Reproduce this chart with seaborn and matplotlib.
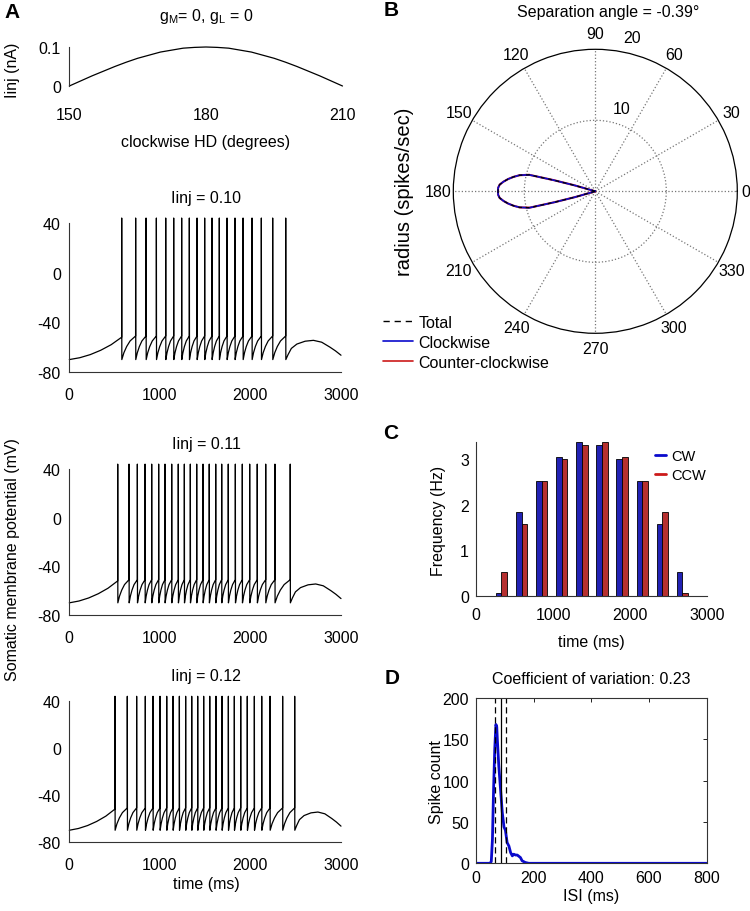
import numpy as np
import pandas as pd
import matplotlib
matplotlib.use('Agg')
import matplotlib.pyplot as plt
import seaborn as sns
from matplotlib.lines import Line2D

# ---------------- data ----------------
# Panel A (top): injected current vs clockwise head direction
hd_deg = [150, 152.5, 155, 157.5, 160, 162.5, 165, 167.5, 170, 172.5, 175, 177.5, 180,
          182.5, 185, 187.5, 190, 192.5, 195, 197.5, 200, 202.5, 205, 207.5, 210]
iinj_na = [0.000, 0.013, 0.026, 0.038, 0.050, 0.061, 0.071, 0.079, 0.087, 0.092, 0.097, 0.099, 0.100,
           0.099, 0.097, 0.092, 0.087, 0.079, 0.071, 0.061, 0.050, 0.038, 0.026, 0.013, 0.000]

# Panel A traces: spike times (ms)
spikes_010 = [578, 732, 847, 961, 1064, 1152, 1240, 1325, 1410, 1494, 1575, 1656, 1741,
              1829, 1918, 2017, 2120, 2245, 2389]
spikes_011 = [534, 659, 751, 836, 909, 986, 1056, 1130, 1203, 1270, 1336, 1406, 1476, 1545,
              1616, 1682, 1755, 1833, 1910, 1991, 2075, 2168, 2270, 2439]
spikes_012 = [504, 640, 743, 839, 924, 1001, 1075, 1145, 1215, 1284, 1351, 1417, 1483, 1550,
              1619, 1686, 1756, 1822, 1892, 1965, 2043, 2124, 2216, 2355, 2488]
trace_titles = ['Iinj = 0.10', 'Iinj = 0.11', 'Iinj = 0.12']
# membrane-potential shape pieces (fraction of interval, mV)
pre_frac = [0, 0.2, 0.4, 0.6, 0.8, 1.0]
pre_v = [-70, -68.5, -66, -62.5, -58, -52]
ramp_frac = [0, 0.15, 0.35, 0.6, 1.0]
ramp_v = [-70, -64.5, -59.5, -55, -51]
post_frac = [0, 0.04, 0.1, 0.2, 0.35, 0.5, 0.65, 0.8, 0.9, 1.0]
post_v = [-70, -66, -61, -57.5, -55.2, -54.5, -56, -60, -63, -66.5]
spike_peak = 44

# Panel B: firing rate vs head direction
cw_angle = [160, 162, 164, 165, 166, 168, 170, 172, 174, 176, 178, 180, 182, 184, 186, 188,
            190, 192, 194, 195, 196, 198, 200]
cw_rate = [0, 0, 3.0, 6.0, 9.6, 10.9, 11.7, 12.4, 13.0, 13.5, 13.7, 13.7, 13.7, 13.5, 13.0,
           12.4, 11.7, 10.9, 9.6, 6.0, 3.0, 0, 0]
ccw_angle = [160, 162, 164, 165, 166, 168, 170, 172, 174, 176, 178, 180, 182, 184, 186, 188,
             190, 192, 194, 195, 196, 198, 200]
ccw_rate = [0, 0, 3.1, 6.1, 9.6, 10.9, 11.7, 12.4, 13.0, 13.5, 13.7, 13.7, 13.7, 13.5, 13.0,
            12.4, 11.7, 10.9, 9.5, 5.9, 2.9, 0, 0]
tot_rate = [0, 0, 3.05, 6.05, 9.6, 10.9, 11.7, 12.4, 13.0, 13.5, 13.7, 13.7, 13.7, 13.5, 13.0,
            12.4, 11.7, 10.9, 9.55, 5.95, 2.95, 0, 0]
polar_angles = [0, 30, 60, 90, 120, 150, 180, 210, 240, 270, 300, 330]

# Panel C: frequency per time bin
bin_center = [329, 591, 852, 1113, 1375, 1636, 1897, 2159, 2420, 2681]
cw_freq = [0.06, 1.84, 2.53, 3.04, 3.37, 3.31, 3.00, 2.53, 1.57, 0.53]
ccw_freq = [0.53, 1.57, 2.53, 3.00, 3.31, 3.37, 3.04, 2.53, 1.84, 0.06]

# Panel D: ISI histogram
isi_ms = [0, 48, 53, 57, 61, 65, 69, 72, 74, 79, 85, 91, 97, 102, 108, 114, 120, 126, 131,
          137, 143, 154, 160, 171, 183, 190, 800]
isi_count = [0, 0, 2, 29, 90, 138, 168, 165, 150, 118, 90, 62, 44, 40, 25, 21, 13, 9, 11,
             10, 10, 7, 3, 1, 0, 0, 0]
isi_lines = [65, 85, 105]
isi_styles = ['--', '-', '--']

# ---------------- style ----------------
sns.set_theme(style='white')
plt.rcParams['font.family'] = ['Liberation Sans', 'DejaVu Sans']
plt.rcParams['mathtext.fontset'] = 'custom'
plt.rcParams['mathtext.rm'] = 'Liberation Sans'
plt.rcParams['mathtext.it'] = 'Liberation Sans:italic'
FS = 11.5
plt.rcParams.update({'font.size': FS, 'xtick.labelsize': FS, 'ytick.labelsize': FS,
                     'axes.labelsize': FS, 'text.color': 'black',
                     'xtick.color': '#222222', 'ytick.color': '#222222',
                     'xtick.labelcolor': 'black', 'ytick.labelcolor': 'black'})

W, H = 750, 912
fig = plt.figure(figsize=(W / 100, H / 100), dpi=100)
BLUE = '#0a0acc'
RED = '#cc1a1a'
SPC = '#333333'


def box(l, t, r, b):
    return [l / W, 1 - b / H, (r - l) / W, (b - t) / H]


def ftext(x, y, s, **kw):
    kw.setdefault('ha', 'center')
    kw.setdefault('va', 'center')
    kw.setdefault('fontsize', FS)
    return fig.text(x / W, 1 - y / H, s, **kw)


def build_trace(spk):
    t, v = [], []
    first = spk[0]
    for f, pv in zip(pre_frac, pre_v):
        t.append(f * first)
        v.append(pv)
    for i, s in enumerate(spk):
        t += [s + 0.5, s + 2.0]
        v += [spike_peak, ramp_v[0]]
        if i + 1 < len(spk):
            nxt = spk[i + 1]
            for f, rv in zip(ramp_frac[1:], ramp_v[1:]):
                t.append(s + 2 + f * (nxt - s - 2))
                v.append(rv)
        else:
            for f, pv in zip(post_frac[1:], post_v[1:]):
                t.append(s + 2 + f * (3000 - s - 2))
                v.append(pv)
    return np.array(t), np.array(v)


# ---------------- Panel A top ----------------
ax1 = fig.add_axes(box(69.3, 48, 342.5, 87))
sns.lineplot(x=hd_deg, y=iinj_na, ax=ax1, color='black', lw=0.9)
for ln in ax1.lines:
    ln.set_clip_on(False)
ax1.set_xlim(150, 210)
ax1.set_ylim(0, 0.1)
ax1.set_xticks([150, 180, 210])
ax1.set_yticks([0, 0.1])
ax1.set_yticklabels(['0', '0.1'])
for s in ['top', 'right', 'bottom']:
    ax1.spines[s].set_visible(False)
ax1.spines['left'].set_color(SPC)
ax1.spines['left'].set_linewidth(0.8)
ax1.tick_params(axis='x', length=0, pad=15)
ax1.tick_params(axis='y', direction='in', length=7, width=0.8, pad=6)
ax1.set_xlabel('')
ax1.set_ylabel('')
ftext(206, 16, r'g$_{\rm M}$= 0, g$_{\rm L}$ = 0')
ftext(206, 143, 'clockwise HD (degrees)')
ftext(13, 70, 'Iinj (nA)', rotation=90)

# ---------------- Panel A traces ----------------
trace_boxes = [(224, 373), (470, 616), (702, 843)]
for spk, title, (top, bot) in zip([spikes_010, spikes_011, spikes_012], trace_titles, trace_boxes):
    ax = fig.add_axes(box(69.3, top, 341, bot))
    t, v = build_trace(spk)
    sns.lineplot(x=t, y=v, ax=ax, color='black', lw=0.9, estimator=None, sort=False)
    for ln in ax.lines:
        ln.set_clip_on(False)
    ax.set_xlim(0, 3000)
    ax.set_ylim(-80, 40)
    ax.set_xticks([0, 1000, 2000, 3000])
    ax.set_yticks([-80, -40, 0, 40])
    ax.set_yticklabels(['-80', '-40', '0', '40'])
    for s in ['top', 'right']:
        ax.spines[s].set_visible(False)
    for s in ['left', 'bottom']:
        ax.spines[s].set_color(SPC)
        ax.spines[s].set_linewidth(0.8)
    ax.tick_params(axis='both', direction='in', length=7, width=0.8)
    ax.tick_params(axis='x', pad=11)
    ax.tick_params(axis='y', pad=6)
    ax.set_xlabel('')
    ax.set_ylabel('')
    ftext(206, top - 25, title)
ftext(206, 885, 'time (ms)')
ftext(13, 560, 'Somatic membrane potential (mV)', rotation=90)

# ---------------- Panel B polar ----------------
cx, cy, R = 595.3, 192.3, 142
axp = fig.add_axes(box(cx - R, cy - R, cx + R, cy + R), projection='polar')
axp.plot(np.deg2rad(ccw_angle), ccw_rate, color=RED, lw=1.5)
axp.plot(np.deg2rad(cw_angle), cw_rate, color=BLUE, lw=1.2)
axp.plot(np.deg2rad(cw_angle), tot_rate, color='black', lw=0.9, ls=(0, (3, 3)))
axp.set_ylim(0, 20)
axp.set_yticks([10])
axp.set_yticklabels([])
axp.set_xticks(np.deg2rad(polar_angles))
axp.set_xticklabels([])
axp.grid(True, color='#777777', linestyle=':', linewidth=0.9)
axp.spines['polar'].set_color('black')
axp.spines['polar'].set_linewidth(0.9)
axp.set_facecolor('white')
for a in polar_angles:
    rr = 21.2 if a == 0 else 22.2
    axp.text(np.deg2rad(a), rr, str(a), ha='center', va='center', fontsize=FS, clip_on=False)
axp.text(np.deg2rad(72.4), 12.25, '10', ha='center', va='center', fontsize=FS)
axp.text(np.deg2rad(76.7), 22.25, '20', ha='center', va='center', fontsize=FS, clip_on=False)
ftext(405, 192, 'radius (spikes/sec)', rotation=90, fontsize=14.5)
ftext(608, 12, 'Separation angle = -0.39°')
hb = [Line2D([], [], color='black', ls=(0, (4.5, 3.5)), lw=1.0),
      Line2D([], [], color=BLUE, lw=1.2),
      Line2D([], [], color=RED, lw=1.2)]
fig.legend(hb, ['Total', 'Clockwise', 'Counter-clockwise'], loc='upper left',
           bbox_to_anchor=(383 / W, 1 - 316 / H), frameon=False, handlelength=1.9,
           handletextpad=0.3, labelspacing=0.3, borderpad=0, borderaxespad=0, fontsize=FS)

# ---------------- Panel C ----------------
axc = fig.add_axes(box(476, 443, 707, 596.7))
dfc = pd.DataFrame({'time': bin_center + bin_center,
                    'freq': cw_freq + ccw_freq,
                    'dir': ['CW'] * len(cw_freq) + ['CCW'] * len(ccw_freq)})
sns.barplot(data=dfc, x='time', y='freq', hue='dir', native_scale=True,
            palette={'CW': BLUE, 'CCW': RED}, hue_order=['CW', 'CCW'], width=0.565,
            edgecolor='black', linewidth=0.6, errorbar=None, legend=False, ax=axc)
axc.set_xlim(0, 3000)
axc.set_ylim(0, 3.38)
axc.set_xticks([0, 1000, 2000, 3000])
axc.set_xticklabels(['0', '1000', '2000', '3000'])
axc.set_yticks([0, 1, 2, 3])
axc.set_yticklabels(['0', '1', '2', '3'])
for s in ['top', 'right']:
    axc.spines[s].set_visible(False)
for s in ['left', 'bottom']:
    axc.spines[s].set_color(SPC)
    axc.spines[s].set_linewidth(0.8)
axc.tick_params(axis='both', direction='in', length=7, width=0.7)
axc.tick_params(axis='x', pad=8)
axc.tick_params(axis='y', pad=5)
axc.set_xlabel('')
axc.set_ylabel('')
ftext(438, 521, 'Frequency (Hz)', rotation=90)
ftext(591, 642, 'time (ms)')
hc = [Line2D([], [], color=BLUE, lw=2), Line2D([], [], color=RED, lw=2)]
fig.legend(hc, ['CW', 'CCW'], loc='upper left', bbox_to_anchor=(655 / W, 1 - 450 / H),
           frameon=False, handlelength=0.75, handletextpad=0.35, labelspacing=0.35,
           borderpad=0, borderaxespad=0, fontsize=10.5)

# ---------------- Panel D ----------------
axd = fig.add_axes(box(476, 699, 706.7, 864.3))
sns.lineplot(x=isi_ms, y=isi_count, ax=axd, color=BLUE, lw=2.0)
for xv, st in zip(isi_lines, isi_styles):
    axd.axvline(xv, color='black', lw=0.9, ls=(0, (5, 3)) if st == '--' else '-')
axd.set_xlim(0, 800)
axd.set_ylim(0, 200)
axd.set_xticks([0, 200, 400, 600, 800])
axd.set_yticks([0, 50, 100, 150, 200])
for s in axd.spines.values():
    s.set_color(SPC)
    s.set_linewidth(0.8)
axd.tick_params(axis='both', direction='in', length=3, width=0.7, top=True, right=True)
axd.tick_params(axis='x', pad=5)
axd.tick_params(axis='y', pad=5)
axd.set_xlabel('')
axd.set_ylabel('')
ftext(591, 680, 'Coefficient of variation: 0.23')
ftext(437, 782, 'Spike count', rotation=90)
ftext(591, 897, 'ISI (ms)')

# ---------------- panel letters ----------------
for lab, x, y in [('A', 12, 12), ('B', 391, 11), ('C', 391, 434), ('D', 392, 678)]:
    ftext(x, y, lab, fontsize=15, fontweight='bold')

fig.savefig('out.png', dpi=100)
